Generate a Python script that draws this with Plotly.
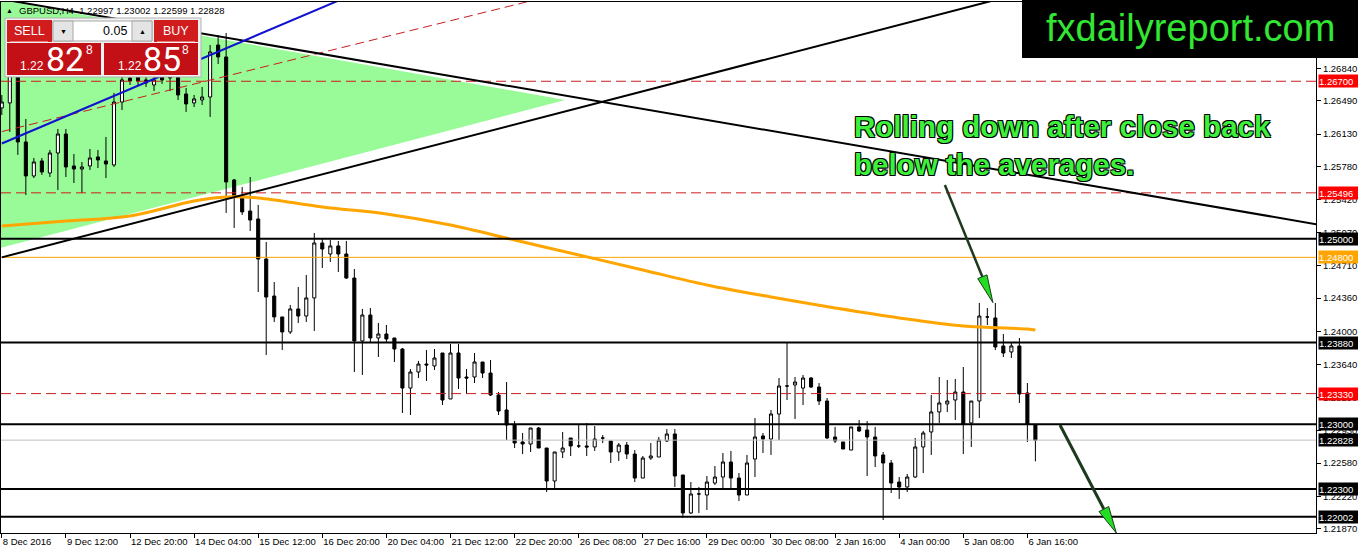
import math
import plotly.graph_objects as go

# ---------------- data ----------------
OPEN = [
    1.26412, 1.26466, 1.26822, 1.26045, 1.25678, 1.25840, 1.25710, 1.25926, 1.26131, 1.25786,
    1.25753, 1.25786, 1.25883, 1.25840, 1.25797, 1.26476, 1.26735, 1.26746, 1.26714, 1.26660,
    1.26757, 1.26822, 1.26779, 1.26563, 1.26466, 1.26498, 1.26530, 1.27091, 1.26962, 1.25635,
    1.25451, 1.25300, 1.25214, 1.24782, 1.24383, 1.24157, 1.23995, 1.24243, 1.24167, 1.24362,
    1.24955, 1.24836, 1.24923, 1.24836, 1.24577, 1.23898, 1.24178, 1.23930, 1.23973, 1.23930,
    1.23811, 1.23390, 1.23563, 1.23649, 1.23628, 1.23768, 1.23272, 1.23768, 1.23509, 1.23509,
    1.23671, 1.23552, 1.23315, 1.23153, 1.22991, 1.22808, 1.22786, 1.22959, 1.22743, 1.22387,
    1.22700, 1.22851, 1.22765, 1.22765, 1.22754, 1.22851, 1.22819, 1.22700, 1.22775, 1.22678,
    1.22419, 1.22635, 1.22646, 1.22819, 1.22894, 1.22452, 1.22042, 1.22247, 1.22236, 1.22365,
    1.22430, 1.22592, 1.22419, 1.22236, 1.22624, 1.22873, 1.22840, 1.23110, 1.23412, 1.23423,
    1.23390, 1.23498, 1.23401, 1.23250, 1.22862, 1.22808, 1.22721, 1.22970, 1.22937, 1.22862,
    1.22668, 1.22581, 1.22376, 1.22322, 1.22430, 1.22754, 1.22916, 1.23132, 1.23218, 1.23261,
    1.23347, 1.23013, 1.23250, 1.24157, 1.24146, 1.23844, 1.23779, 1.23844, 1.23337, 1.22997,
]
HIGH = [
    1.26552, 1.26930, 1.26930, 1.26293, 1.25872, 1.25872, 1.25958, 1.26185, 1.26185, 1.25915,
    1.25829, 1.25969, 1.25958, 1.26099, 1.26574, 1.26757, 1.26768, 1.26768, 1.26757, 1.26757,
    1.26822, 1.26908, 1.26822, 1.26627, 1.26552, 1.26638, 1.27091, 1.27199, 1.27221, 1.25646,
    1.25559, 1.25667, 1.25365, 1.24966, 1.24534, 1.24157, 1.24286, 1.24480, 1.24610, 1.25063,
    1.24998, 1.24987, 1.24977, 1.24977, 1.24674, 1.24243, 1.24254, 1.24092, 1.24070, 1.23930,
    1.23822, 1.23595, 1.23682, 1.23800, 1.23811, 1.23768, 1.23865, 1.23865, 1.23595, 1.23768,
    1.23671, 1.23693, 1.23347, 1.23455, 1.23034, 1.22905, 1.22959, 1.22970, 1.22743, 1.22700,
    1.22916, 1.22851, 1.22991, 1.23013, 1.22980, 1.22883, 1.22819, 1.22797, 1.22808, 1.22721,
    1.22657, 1.22797, 1.22862, 1.22948, 1.22948, 1.22452, 1.22376, 1.22322, 1.22441, 1.22549,
    1.22689, 1.22711, 1.22473, 1.22668, 1.23067, 1.22905, 1.23153, 1.23498, 1.23876, 1.23509,
    1.23531, 1.23509, 1.23444, 1.23283, 1.22970, 1.22808, 1.22970, 1.23045, 1.23034, 1.22970,
    1.22700, 1.22614, 1.22430, 1.22463, 1.22851, 1.22927, 1.23315, 1.23509, 1.23477, 1.23488,
    1.23617, 1.23250, 1.24308, 1.24254, 1.24308, 1.23973, 1.23887, 1.23930, 1.23444, 1.23002,
]
LOW = [
    1.26336, 1.26153, 1.25905, 1.25473, 1.25656, 1.25689, 1.25667, 1.25527, 1.25667, 1.25602,
    1.25495, 1.25743, 1.25764, 1.25656, 1.25775, 1.26390, 1.26660, 1.26649, 1.26638, 1.26595,
    1.26671, 1.26595, 1.26498, 1.26369, 1.26422, 1.26444, 1.26315, 1.26886, 1.25279, 1.25117,
    1.25257, 1.25085, 1.24426, 1.23747, 1.24103, 1.23800, 1.23973, 1.24092, 1.24103, 1.24006,
    1.24685, 1.24750, 1.24642, 1.24567, 1.23563, 1.23531, 1.23887, 1.23725, 1.23887, 1.23671,
    1.23121, 1.23099, 1.23498, 1.23466, 1.23585, 1.23207, 1.23272, 1.23380, 1.23326, 1.23444,
    1.23498, 1.23304, 1.23099, 1.22829, 1.22743, 1.22678, 1.22700, 1.22743, 1.22268, 1.22290,
    1.22635, 1.22657, 1.22743, 1.22657, 1.22711, 1.22797, 1.22581, 1.22603, 1.22624, 1.22376,
    1.22419, 1.22614, 1.22646, 1.22808, 1.22322, 1.21988, 1.22031, 1.22042, 1.22074, 1.22344,
    1.22301, 1.22301, 1.22171, 1.22236, 1.22430, 1.22689, 1.22668, 1.22829, 1.23261, 1.23056,
    1.23207, 1.23390, 1.23207, 1.22840, 1.22797, 1.22732, 1.22721, 1.22916, 1.22441, 1.22538,
    1.21966, 1.22258, 1.22193, 1.22268, 1.22419, 1.22473, 1.22668, 1.23013, 1.23132, 1.23045,
    1.22678, 1.22754, 1.23067, 1.24070, 1.23800, 1.23725, 1.23714, 1.23229, 1.22808, 1.22599,
]
CLOSE = [
    1.26476, 1.26822, 1.26045, 1.25678, 1.25829, 1.25721, 1.25926, 1.26131, 1.25775, 1.25753,
    1.25775, 1.25872, 1.25851, 1.25807, 1.26476, 1.26714, 1.26703, 1.26703, 1.26681, 1.26714,
    1.26714, 1.26735, 1.26552, 1.26455, 1.26509, 1.26530, 1.27016, 1.26962, 1.25613, 1.25451,
    1.25290, 1.25203, 1.24782, 1.24372, 1.24157, 1.23995, 1.24243, 1.24167, 1.24362, 1.24955,
    1.24890, 1.24923, 1.24836, 1.24577, 1.23898, 1.24178, 1.23930, 1.23973, 1.23919, 1.23811,
    1.23390, 1.23563, 1.23649, 1.23639, 1.23714, 1.23261, 1.23768, 1.23498, 1.23498, 1.23671,
    1.23552, 1.23315, 1.23142, 1.22991, 1.22797, 1.22786, 1.22959, 1.22743, 1.22387, 1.22700,
    1.22743, 1.22765, 1.22765, 1.22754, 1.22840, 1.22851, 1.22700, 1.22775, 1.22678, 1.22419,
    1.22635, 1.22657, 1.22829, 1.22894, 1.22441, 1.22042, 1.22247, 1.22247, 1.22376, 1.22430,
    1.22592, 1.22419, 1.22236, 1.22581, 1.22862, 1.22840, 1.23110, 1.23412, 1.23412, 1.23455,
    1.23498, 1.23401, 1.23250, 1.22851, 1.22819, 1.22732, 1.22970, 1.22927, 1.22862, 1.22657,
    1.22581, 1.22365, 1.22322, 1.22430, 1.22754, 1.22905, 1.23132, 1.23229, 1.23250, 1.23347,
    1.23002, 1.23250, 1.24167, 1.24157, 1.23833, 1.23768, 1.23844, 1.23326, 1.23002, 1.22828,
]
BAR_INDEX = list(range(len(OPEN)))

TIME_TICK_INDEX = [0, 8, 16, 24, 32, 40, 48, 56, 64, 72, 80, 88, 96, 104, 112, 120, 128]
TIME_TICK_TEXT = ["8 Dec 2016", "9 Dec 12:00", "12 Dec 20:00", "14 Dec 04:00", "15 Dec 12:00",
                  "16 Dec 20:00", "20 Dec 04:00", "21 Dec 12:00", "22 Dec 20:00", "26 Dec 08:00",
                  "27 Dec 16:00", "29 Dec 00:00", "30 Dec 08:00", "2 Jan 16:00", "4 Jan 00:00",
                  "5 Jan 08:00", "6 Jan 16:00"]
PRICE_TICKS = [1.26840, 1.26490, 1.26130, 1.25780, 1.25420, 1.25070, 1.24710, 1.24360,
               1.24000, 1.23640, 1.23290, 1.22930, 1.22580, 1.22220, 1.21870]

MA_INDEX = [0, 8, 16, 24, 28, 32, 40, 48, 56, 64, 72, 80, 88, 96, 104, 112, 120, 128, 129]
MA_VALUE = [1.25138, 1.25192, 1.25246, 1.25408, 1.25451, 1.25441, 1.25343, 1.25268, 1.25149,
            1.24987, 1.24826, 1.24664, 1.24502, 1.24372, 1.24254, 1.24146, 1.24059, 1.24027, 1.24016]

BLACK_LEVELS = [1.25000, 1.23880, 1.23000, 1.22300, 1.22002]
RED_LEVELS = [1.26700, 1.25496, 1.23330]
ORANGE_LEVELS = [1.24800]
BID = 1.22828
ASK = 1.22858
SYMBOL = "GBPUSD,H4"
LOT = "0.05"

TRIANGLE_INDEX = [-0.22, 70.3, -0.22]
TRIANGLE_PRICE = [1.27577, 1.26498, 1.24901]
TREND_DOWN_INDEX = [0, 164.1]
TREND_DOWN_PRICE = [1.27585, 1.25157]
TREND_UP_INDEX = [0, 124]
TREND_UP_PRICE = [1.24800, 1.27577]
BLUE_INDEX = [0, 42.2]
BLUE_PRICE = [1.26028, 1.27577]
CHANNEL_INDEX = [0, 66.5]
CHANNEL_PRICE = [1.26157, 1.27577]
ARROW1_INDEX = [117.7, 123.7]
ARROW1_PRICE = [1.25581, 1.24311]
ARROW2_INDEX = [132.07, 139.1]
ARROW2_PRICE = [1.22991, 1.21826]

NOTE = "Rolling down after close back<br>below the averages."
LOGO = "fxdailyreport.com"

# ---------------- geometry ----------------
FW, FH = 1358, 554
ML, MR, MT, MB = 1, 42, 2, 21
PW, PH = FW - ML - MR, FH - MT - MB
X0, X1 = -0.1, 164.02
Y0, Y1 = 1.21826, 1.27555
FONT = "Liberation Sans, Arial, sans-serif"


def px_x(px):
    return (px - ML) / PW


def px_y(py):
    return (MT + PH - py) / PH


def d2p(xi, p):
    return ML + (xi - X0) / (X1 - X0) * PW, MT + (Y1 - p) / (Y1 - Y0) * PH


def p2d(px, py):
    return X0 + (px - ML) / PW * (X1 - X0), Y1 - (py - MT) / PH * (Y1 - Y0)


fig = go.Figure()

fig.add_trace(go.Candlestick(
    x=BAR_INDEX, open=OPEN, high=HIGH, low=LOW, close=CLOSE,
    increasing=dict(line=dict(color="black", width=1), fillcolor="white"),
    decreasing=dict(line=dict(color="black", width=1), fillcolor="black"),
    whiskerwidth=0, hoverinfo="skip", showlegend=False,
))

fig.add_trace(go.Scatter(
    x=MA_INDEX, y=MA_VALUE, mode="lines", line=dict(color="#FFA500", width=3, shape="spline"),
    hoverinfo="skip", showlegend=False,
))

shapes = []
tri = "M {},{} L {},{} L {},{} Z".format(TRIANGLE_INDEX[0], TRIANGLE_PRICE[0], TRIANGLE_INDEX[1],
                                         TRIANGLE_PRICE[1], TRIANGLE_INDEX[2], TRIANGLE_PRICE[2])
shapes.append(dict(type="path", path=tri, xref="x", yref="y", fillcolor="#98FB98",
                   line=dict(width=0), layer="below"))

for lv in RED_LEVELS:
    shapes.append(dict(type="line", xref="paper", x0=0, x1=1, yref="y", y0=lv, y1=lv,
                       line=dict(color="#CC1E1E", width=1, dash="10px,5px"), layer="above"))
for lv in ORANGE_LEVELS:
    shapes.append(dict(type="line", xref="paper", x0=0, x1=1, yref="y", y0=lv, y1=lv,
                       line=dict(color="#FFA500", width=1), layer="above"))
shapes.append(dict(type="line", xref="paper", x0=0, x1=1, yref="y", y0=BID, y1=BID,
                   line=dict(color="#C0C0C0", width=1), layer="above"))
for lv in BLACK_LEVELS:
    shapes.append(dict(type="line", xref="paper", x0=0, x1=1, yref="y", y0=lv, y1=lv,
                       line=dict(color="black", width=2), layer="above"))


def seg(xs, ps, color, width, dash=None):
    ln = dict(color=color, width=width)
    if dash:
        ln["dash"] = dash
    return dict(type="line", xref="x", yref="y", x0=xs[0], y0=ps[0], x1=xs[1], y1=ps[1],
                line=ln, layer="above")


shapes.append(seg(CHANNEL_INDEX, CHANNEL_PRICE, "#C81E1E", 1, "9px,5px"))
shapes.append(seg(TREND_DOWN_INDEX, TREND_DOWN_PRICE, "black", 2))
shapes.append(seg(TREND_UP_INDEX, TREND_UP_PRICE, "black", 2))
shapes.append(seg(BLUE_INDEX, BLUE_PRICE, "#1010D0", 2))


def arrow(xs, ps, shaft_w, head_len, head_half):
    sx, sy = d2p(xs[0], ps[0])
    tx, ty = d2p(xs[1], ps[1])
    dx, dy = tx - sx, ty - sy
    L = math.hypot(dx, dy)
    ux, uy = dx / L, dy / L
    bx, by = tx - ux * head_len, ty - uy * head_len
    nx, ny = -uy, ux
    b_d = p2d(bx, by)
    out = [dict(type="line", xref="x", yref="y", x0=xs[0], y0=ps[0], x1=b_d[0], y1=b_d[1],
                line=dict(color="#1E3A1E", width=shaft_w), layer="above")]
    pts = [(tx, ty), (bx + nx * head_half, by + ny * head_half), (bx - nx * head_half, by - ny * head_half)]
    dp = [p2d(a, b) for a, b in pts]
    path = "M {},{} L {},{} L {},{} Z".format(dp[0][0], dp[0][1], dp[1][0], dp[1][1], dp[2][0], dp[2][1])
    out.append(dict(type="path", path=path, xref="x", yref="y", fillcolor="#22DD22",
                    line=dict(color="#1E3A1E", width=1), layer="above"))
    return out


shapes += arrow(ARROW1_INDEX, ARROW1_PRICE, 2.5, 28, 5)
shapes += arrow(ARROW2_INDEX, ARROW2_PRICE, 3, 27, 5.5)


def rect(x0, y0, x1, y1, fill, line=None, lw=1):
    return dict(type="rect", xref="paper", yref="paper", x0=px_x(x0), x1=px_x(x1),
                y0=px_y(y1), y1=px_y(y0), fillcolor=fill,
                line=dict(color=line or fill, width=lw if line else 0), layer="above")


# trade panel
shapes.append(rect(5, 18, 201, 77, "#F2F2F2", "#B0B0B0"))
shapes.append(rect(7, 20, 52, 42, "#D01C1C"))
shapes.append(rect(154, 20, 198, 42, "#D01C1C"))
shapes.append(rect(53, 21, 152, 41, "white", "#A8A8A8"))
shapes.append(rect(53, 21, 73, 41, "#E4E4E4", "#A8A8A8"))
shapes.append(rect(132, 21, 152, 41, "#E4E4E4", "#A8A8A8"))
shapes.append(rect(7, 43, 101, 75, "#C21016"))
shapes.append(rect(104, 43, 198, 75, "#C21016"))
shapes.append(dict(type="line", xref="paper", yref="paper", x0=px_x(10), x1=px_x(48),
                   y0=px_y(41.5), y1=px_y(41.5), line=dict(color="#E87878", width=1), layer="above"))
shapes.append(dict(type="line", xref="paper", yref="paper", x0=px_x(157), x1=px_x(195),
                   y0=px_y(41.5), y1=px_y(41.5), line=dict(color="#E87878", width=1), layer="above"))
# logo box
shapes.append(rect(1022, 0, 1358, 58, "black"))

ann = []


def txt(x, y, s, size, color, xanchor="center", family=FONT, **kw):
    f = dict(family=family, size=size, color=color)
    d = dict(xref="paper", yref="paper", x=px_x(x), y=px_y(y), text=s, showarrow=False,
             xanchor=xanchor, yanchor="middle", font=f)
    d.update(kw)
    ann.append(d)


txt(9, 11, "▲", 7, "black")
txt(17, 10, "{}  {:.5f} {:.5f} {:.5f} {:.5f}".format(SYMBOL, OPEN[-1], HIGH[-1], LOW[-1], CLOSE[-1]),
    9.5, "black", xanchor="left")
txt(29.5, 31, "SELL", 12.5, "white")
txt(176, 31, "BUY", 12.5, "white")
txt(63, 31, "▼", 7, "black")
txt(142, 31, "▲", 7, "black")
txt(129, 31, LOT, 12.5, "black", xanchor="right")

bid_s, ask_s = "{:.5f}".format(BID), "{:.5f}".format(ASK)
for (x_small, x_big, x_sup, s) in [(32, 65, 89, bid_s), (129.5, 162, 185, ask_s)]:
    txt(x_small, 66, s[:4], 12, "white")
    txt(x_big, 59, s[4:6], 34, "white", family="Roboto, " + FONT)
    txt(x_sup, 50, s[6], 12, "white")

txt(1190, 28, LOGO, 38, "#33E633")
ann.append(dict(xref="paper", yref="paper", x=px_x(852), y=px_y(108), text=NOTE, showarrow=False,
                xanchor="left", yanchor="top", align="left",
                font=dict(family="Liberation Sans, Arial, sans-serif", size=29.5, color="#3CF03C",
                          weight="bold",
                          shadow="-1px -1px 0 #000, 1px -1px 0 #000, -1px 1px 0 #000, 1px 1px 0 #000, 0 0 1px #000")))

# price labels on the right axis
label_specs = [(lv, "#FF0000") for lv in RED_LEVELS] + [(lv, "#FFA500") for lv in ORANGE_LEVELS] + \
              [(lv, "black") for lv in BLACK_LEVELS] + [(BID, "black")]
for lv, col in label_specs:
    ann.append(dict(xref="paper", x=1, xanchor="left", xshift=2, yref="y", y=lv, yanchor="middle",
                    text="{:.5f}".format(lv), showarrow=False, bgcolor=col, borderpad=0,
                    width=40, height=12, align="left",
                    font=dict(family=FONT, size=9.5, color="white")))

fig.update_layout(
    width=FW, height=FH, margin=dict(l=ML, r=MR, t=MT, b=MB, pad=0, autoexpand=False),
    paper_bgcolor="white", plot_bgcolor="white", showlegend=False,
    boxgap=0.45, shapes=shapes, annotations=ann,
    xaxis=dict(range=[X0, X1], showgrid=False, zeroline=False, rangeslider=dict(visible=False),
               tickvals=TIME_TICK_INDEX, ticktext=TIME_TICK_TEXT, ticks="outside", ticklen=4,
               tickcolor="black", ticklabelposition="outside right", tickangle=0, automargin=False,
               tickfont=dict(family=FONT, size=9.5, color="black"),
               showline=True, linecolor="black", linewidth=1, mirror=True),
    yaxis=dict(range=[Y0, Y1], side="right", showgrid=False, zeroline=False, automargin=False,
               tickvals=PRICE_TICKS, ticktext=["{:.5f}".format(v) for v in PRICE_TICKS],
               ticks="outside", ticklen=4, tickcolor="black",
               tickfont=dict(family=FONT, size=9.5, color="black"),
               showline=True, linecolor="black", linewidth=1, mirror=True),
)

fig.write_html("out.html", config={"displayModeBar": False},
               post_script="document.body.style.margin='0';document.body.style.overflow='hidden';")
